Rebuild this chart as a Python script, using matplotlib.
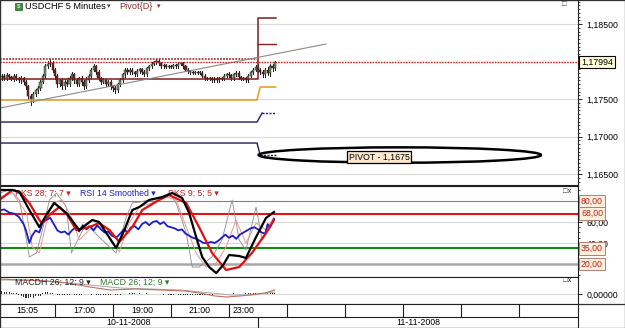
import matplotlib
matplotlib.use('Agg')
import matplotlib.pyplot as plt
from matplotlib.patches import Ellipse, Rectangle
from matplotlib.lines import Line2D
from matplotlib.ticker import MultipleLocator

plt.rcParams['font.family'] = ['Liberation Sans', 'DejaVu Sans']

# ---------------- data ----------------
closes = [1.1779,1.1781,1.1778,1.1782,1.1779,1.1777,1.1781,1.1778,1.1775,1.1778,
          1.1773,1.1767,1.1754,1.1749,1.1757,1.1762,1.1765,1.1773,1.1781,1.1794,
          1.1797,1.1798,1.1789,1.1781,1.1770,1.1775,1.1767,1.1773,1.1770,1.1778,
          1.1783,1.1775,1.1770,1.1778,1.1773,1.1767,1.1775,1.1781,1.1789,1.1794,
          1.1786,1.1778,1.1773,1.1775,1.1770,1.1773,1.1767,1.1765,1.1762,1.1770,
          1.1775,1.1783,1.1789,1.1786,1.1789,1.1786,1.1783,1.1787,1.1790,1.1786,
          1.1783,1.1791,1.1794,1.1797,1.1799,1.1801,1.1798,1.1794,1.1795,1.1793,
          1.1794,1.1793,1.1795,1.1794,1.1797,1.1798,1.1794,1.1789,1.1787,1.1786,
          1.1785,1.1786,1.1785,1.1785,1.1781,1.1778,1.1777,1.1778,1.1775,1.1777,
          1.1775,1.1778,1.1777,1.1781,1.1783,1.1782,1.1778,1.1783,1.1785,1.1779,
          1.1777,1.1778,1.1775,1.1781,1.1786,1.1789,1.1793,1.1789,1.1786,1.1783,
          1.1789,1.1785,1.1794,1.1791,1.17994]
first_open = 1.1778
upper_wick_pips = [2,3,2,3,2,2,3,2,2,3, 2,3,2,3,3,2,3,2,3,3, 4,5,3,2,3,2,3,4,2,3,
                   3,2,3,2,3,2,4,3,2,3, 2,3,2,3,2,3,2,2,3,2, 3,2,3,2,2,3,2,3,2,2,
                   3,2,2,2,2,2,2,2,2,2, 2,2,2,2,2,2,2,2,2,2, 2,2,2,2,2,2,2,2,2,2,
                   2,2,2,2,2,3,2,2,3,2, 2,2,2,3,2,3,2,4,3,3, 3,4,3,3,1]
lower_wick_pips = [2,3,2,3,2,2,3,3,2,3, 3,4,4,7,3,3,4,3,2,3, 2,3,3,4,4,3,4,3,3,3,
                   2,3,3,3,4,3,2,2,3,2, 3,2,3,2,3,3,3,4,4,3, 2,2,3,2,2,2,2,2,2,2,
                   2,2,2,2,2,2,2,2,2,2, 2,2,2,2,2,2,2,2,2,2, 2,2,2,2,2,2,2,2,2,2,
                   2,2,2,2,2,2,2,2,2,2, 2,2,2,2,2,2,2,3,3,4, 3,3,4,3,2]

last_price = 1.17994
day_change_bar = 107          # 00:00 bar
pivot_p  = [1.17767, 1.18580]
pivot_r1 = [1.18033, 1.18233]
pivot_s1 = [1.17487, 1.17660]
pivot_s2 = [1.17193, 1.17313]
pivot_s3 = [1.16913, 1.16753]
trend_x = [0.24, 135.1]
trend_y = [1.1738, 1.18233]
pivot_note = 'PIVOT - 1,1675'
pivot_note_price = 1.16753

price_ticks = [1.165, 1.170, 1.175, 1.180, 1.185]
price_ticklabels = ['1,16500', '1,17000', '1,17500', '', '1,18500']

grid_bars = [23, 47, 71, 95, 119, 143, 167, 191, 215]
time_labels = ['15:05', '17:00', '19:00', '21:00', '23:00']
date_labels = ['10-11-2008', '11-11-2008']

pks28_x = [0,5.4,8.3,12.4,16.5,19.4,22.7,27.7,33,38.4,41.3,48.3,51.7,55,57.9,62,67.4,71.5,
           75.6,78.5,81.4,83.9,86.8,89.7,92.6,95,99.2,102,106.2,110.3,113.6]
pks28_v = [90.5,90.5,88.6,71.4,55.2,66.7,78.1,68.6,52.4,61.9,60,35.2,52.4,71.4,74.3,81,83.8,
           87.6,82.9,68.6,45.7,26.7,17.1,11.4,19,28.6,27.6,25.7,45.7,63.8,69.5]
pks9_x = [0,5.4,8.3,12.4,16.5,17.8,20.7,24.8,28.1,31.8,37.2,41.3,45.5,49.6,55,59.1,66.1,70.2,
          77.3,82.6,88,93.8,99.2,104.5,110.3,113.6]
pks9_v = [81,90.5,88.6,78.1,61.9,59,66.7,74.3,66.7,52.4,55.2,59,52.4,41,55.2,71.4,81,85.7,
          78.1,55.2,30.5,14.3,17.1,30.5,49.5,61.9]
rsi_x = [0,2,4,6,8,10,11,12.4,13.5,15,16.5,18,19.5,21,22.5,24,25.5,27,28.5,30,31.5,33,34.5,36,
         37.5,39,40.5,42,43.5,45,46.5,48.3,50,51.5,53,54.5,56,57.5,59,60.5,62,63.5,65,66.5,68,
         69.5,71,72.5,74,75.5,77,78.5,80,81.5,83,84.5,86,87.5,89,90.5,92,93.5,95,96.5,98,99.5,
         101,102.5,104,105.5,107,108.5,110,111,112,113.6]
rsi_v = [71,72,69,68,65,58,52,40,47,52,50,60,62,64,58,52,50,51,48,52,55,51,57,53,
         56,52,57,53,50,51,47,45,49,53,50,55,56,53,58,60,57,60,61,58,60,
         56,55,54,52,53,49,47,45,44,42,40,40,41,40,42,45,48,45,47,44,48,
         50,52,54,55,53,50,49,58,55,63]
gray_x = [0,4.1,8.3,11.2,12.4,15.3,17.8,20.7,23.6,27.7,29.8,33,36,38.4,41.3,45.5,48.3,52.5,55,
          57.9,62,66.1,70.2,73.1,77.3,79.8,82.6,88,92.1,96.3,99.2,102,106.2,108.7,111.6,113.6]
gray_v = [87.6,90.5,81,42.9,26.7,30.5,52.4,81,87.6,74.3,30.5,45.7,59,52.4,45.7,36.2,30.5,64.8,
          78.1,79,81,81,87.6,78.1,49.5,17.1,17.1,26.7,42.9,81,42.9,33.3,74.3,42.9,52.4,61.9]
pink_x = [0,5.4,11.2,13.6,16.5,19.4,21.9,26,29.8,33,37.2,41.3,45.5,49.6,53.7,57.9,63.2,69,73.1,
          77.3,81.4,85.5,89.7,93.8,97.9,102,106.2,110.3,113.6]
pink_v = [83.8,87.6,68.6,36.2,30.5,59,78.1,81,64.8,42.9,52.4,55.2,45.7,31.4,59,74.3,78.1,83.8,
          81,55.2,30.5,17.1,21,36.2,61.9,40,59,52.4,64.8]
osc_levels = [80, 68, 35, 20]
osc_level_labels = ['80,00', '68,00', '35,00', '20,00']

macd_x = [0,8.5,18.9,27.9,37.5,45.8,56.1,66.5,76.8,82.9,89.2,94.1,99.5,103.6,109.8,113.9]
macd_v = [0.00075,0.0007,0.00065,0.00055,0.00035,0.0002,0.00025,0.0002,0.00015,0.00005,
          -0.0001,-0.00015,-0.0001,-0.00005,0.00005,0.0002]
signal_x = [0,12.6,25,37.5,50,62.5,75,87.5,95.8,104.1,113.9]
signal_v = [0.0007,0.0007,0.0006,0.00045,0.0003,0.00025,0.0002,0.00005,-0.00005,-0.00005,0.0001]
hist_1e5 = [10,15,12,8,10,6,5,3,
            -5,-10,-15,-18,-20,-15,-18,-12,-10,-8,
            5,8,10,6,3,2,
            -3,-5,-6,-4,-5,-3,-2,-3,-4,-5,-3,-2,-1,-2,-3,-2,
            -3,-4,-5,-6,-5,-4,-3,-2,-3,-4,-3,-2,-1,2,3,4,3,2,3,2,
            2,3,2,1,2,1,-1,-2,-3,-2,-3,-4,-3,-2,-3,-4,-5,-6,-5,-4,
            -5,-6,-7,-6,-5,-4,-3,-4,-3,-2,-1,-2,-1,1,2,1,2,3,2,1,
            2,1,3,4,5,4,3,2,4,5,4,6,5,6,7]

# ---------------- layout ----------------
W, H = 625, 328
fig = plt.figure(figsize=(6.25, 3.28), dpi=100)
fig.patch.set_facecolor('white')

def rect(x0, y0, x1, y1):
    return [x0 / W, 1 - y1 / H, (x1 - x0) / W, (y1 - y0) / H]

def fx(px):
    return px / W

def fy(py):
    return 1 - py / H

XL = ((0 + 3) * 12 / 29 - 1, (578 + 3) * 12 / 29 - 1)

ax = fig.add_axes(rect(0, 0, 578, 185))
osc = fig.add_axes(rect(0, 186, 578, 277), sharex=ax)
mac = fig.add_axes(rect(0, 277, 578, 304), sharex=ax)
tax = fig.add_axes(rect(0, 304, 578, 328), sharex=ax)

FS = 6.3
GRID = '#d9d9d9'

for a in (ax, osc, mac):
    a.set_xlim(*XL)
    a.set_xticks(grid_bars)
    a.tick_params(axis='x', length=0, labelbottom=False)
    a.yaxis.tick_right()
    a.tick_params(axis='y', labelsize=FS, length=3, pad=3, direction='out', width=0.6)
    a.tick_params(axis='y', which='minor', length=1.5, width=0.5)
    a.grid(True, color=GRID, lw=0.8, zorder=0)
    a.set_axisbelow(True)
    for s in a.spines.values():
        s.set_linewidth(0.8)
        s.set_color('#202020')

# ---------------- main price panel ----------------
ax.set_ylim(1.18 - 123.5 / 7500, 1.18 + 61.5 / 7500)
ax.set_yticks(price_ticks)
ax.set_yticklabels(price_ticklabels)
ax.yaxis.set_minor_locator(MultipleLocator(0.0005))

opens = [first_open] + closes[:-1]
for i, (o, c) in enumerate(zip(opens, closes)):
    hi = max(o, c) + upper_wick_pips[i] * 0.0001
    lo = min(o, c) - lower_wick_pips[i] * 0.0001
    ax.plot([i, i], [lo, hi], color='#1a1a1a', lw=0.7, zorder=3)
    up = c >= o
    body = max(abs(c - o), 0.00004)
    ax.bar(i, body, bottom=min(o, c), width=0.85,
           color='#6d926d' if up else '#7d1c1c', edgecolor='#222222', lw=0.35, zorder=4)

xe = XL[0]
xd = day_change_bar
xend = 114.3
ax.plot([xe, xd, xd, xend], [pivot_p[0], pivot_p[0], pivot_p[1], pivot_p[1]],
        color='#7b1c1c', lw=1.1, zorder=5)
ax.plot([xe, xd - 0.4], [pivot_r1[0]] * 2, color='#8b2020', lw=1.1, ls=(0, (1.2, 0.8)), zorder=5)
ax.plot([xd, xend], [pivot_r1[1]] * 2, color='#8b2020', lw=1.0, zorder=5)
ax.plot([xe, xd - 0.4, xd + 0.9, xend], [pivot_s1[0], pivot_s1[0], pivot_s1[1], pivot_s1[1]],
        color='#e6a12c', lw=1.2, zorder=5)
ax.plot([xe, xd - 0.4, xd + 1.7], [pivot_s2[0], pivot_s2[0], pivot_s2[1]],
        color='#1c1c5e', lw=1.0, zorder=5)
ax.plot([xd + 1.7, xend], [pivot_s2[1]] * 2, color='#1c1c5e', lw=1.0, ls=(0, (1.5, 1)), zorder=5)
ax.plot([xe, xd - 0.4, xd + 0.9], [pivot_s3[0], pivot_s3[0], pivot_s3[1]],
        color='#1c1c5e', lw=1.0, zorder=5)
ax.plot([xd + 0.9, xend], [pivot_s3[1]] * 2, color='#1c1c5e', lw=1.0, ls=(0, (1.5, 1)), zorder=5)

ax.plot(trend_x, trend_y, color='#8a8a8a', lw=0.8, zorder=6)
ax.axhline(last_price, color='#d02020', lw=1.0, ls=(0, (1, 1)), zorder=6)

ell_left = day_change_bar + 0.25
ell_right = (541 + 3) * 12 / 29 - 1
ax.add_patch(Ellipse(((ell_left + ell_right) / 2, pivot_note_price), ell_right - ell_left,
                     0.00205, fill=False, ec='black', lw=1.8, zorder=7))
ax.text((379 + 3) * 12 / 29 - 1, pivot_note_price - 0.00027, pivot_note, fontsize=FS,
        ha='center', va='center', zorder=8,
        bbox=dict(boxstyle='square,pad=0.15', fc='#fbe8cf', ec='black', lw=0.9))

fig.text(fx(581), fy(62), '1,17994', fontsize=FS, ha='left', va='center', zorder=10,
         bbox=dict(boxstyle='square,pad=0.2', fc='#ffffd8', ec='black', lw=0.8))

# titles
fig.add_artist(Rectangle((fx(15), fy(10)), 7 / W, 7 / H, transform=fig.transFigure,
                         fc='#3c8c3c', ec='#1e5a1e', lw=0.5))
fig.text(fx(18.5), fy(6.5), '$', fontsize=4.5, color='white', ha='center', va='center')
fig.text(fx(25), fy(6.5), 'USDCHF 5 Minutes', fontsize=6.6, ha='left', va='center')
fig.text(fx(107), fy(7), '\u25be', fontsize=5, ha='left', va='center', color='#444444')
fig.text(fx(119), fy(6.5), 'Pivot{D}', fontsize=6.6, ha='left', va='center', color='#8b2b2b')
fig.text(fx(157), fy(7), '\u25be', fontsize=5, ha='left', va='center', color='#8b2b2b')
fig.text(fx(562), fy(4.5), '\u25a1', fontsize=5.5, ha='left', va='center', color='#333333')

# ---------------- oscillator panel ----------------
osc.set_ylim(80 - 76 / 1.05, 80 + 15 / 1.05)
osc.set_yticks([40, 60])
osc.set_yticklabels(['40,00', '60,00'])
osc.yaxis.set_minor_locator(MultipleLocator(5))
osc.axhline(osc_levels[0], color='#c06a60', lw=0.8, zorder=2)
osc.axhline(osc_levels[1], color='#e01515', lw=1.5, zorder=2)
osc.axhline(osc_levels[2], color='#128a12', lw=1.5, zorder=2)
osc.axhline(osc_levels[3], color='#a8a8a8', lw=1.8, zorder=2)

ot = fig.transFigure
osc.text(fx(15), fy(193), 'PKS 28; 7; 7 \u25be', fontsize=FS, color='#c82020', transform=ot,
         ha='left', va='center', zorder=1)
osc.text(fx(80), fy(193), 'RSI 14 Smoothed \u25be', fontsize=FS, color='#2020c0', transform=ot,
         ha='left', va='center', zorder=1)
osc.text(fx(168), fy(193), 'PKS 9; 5; 5 \u25be', fontsize=FS, color='#c82020', transform=ot,
         ha='left', va='center', zorder=1)

osc.plot(gray_x, gray_v, color='#8c8c8c', lw=0.6, zorder=3)
osc.plot(pink_x, pink_v, color='#e39a90', lw=0.7, zorder=3)
osc.plot(rsi_x, rsi_v, color='#1c1cc8', lw=1.3, zorder=4)
osc.plot(pks9_x, pks9_v, color='#e01010', lw=1.6, zorder=5)
osc.plot(pks28_x, pks28_v, color='black', lw=1.6, zorder=6)

for lv, lab in zip(osc_levels, osc_level_labels):
    py = 201 + (80 - lv) * 1.05
    fig.text(fx(581), fy(py), lab, fontsize=FS, color='#c02020', ha='left', va='center',
             zorder=10, bbox=dict(boxstyle='square,pad=0.2', fc='#fdf0dc', ec='#b08070', lw=0.7))
fig.text(fx(563), fy(191.5), '\u25a1x', fontsize=5.5, ha='left', va='center', color='#333333')

# ---------------- MACD panel ----------------
mac.set_ylim(-0.0005, 0.00085)
mac.set_yticks([0])
mac.set_yticklabels(['0,00000'])
mac.bar(range(len(hist_1e5)), [h * 1e-5 for h in hist_1e5], width=0.45,
        color='#303030', zorder=3)
mac.plot(signal_x, signal_v, color='#a6a6a6', lw=0.7, zorder=4)
mac.plot(macd_x, macd_v, color='#c07060', lw=0.8, zorder=4)
mac.text(fx(15), fy(282), 'MACDH 26; 12; 9 \u25be', fontsize=FS, color='#222222',
         transform=ot, ha='left', va='center', zorder=5)
mac.text(fx(100), fy(282), 'MACD 26; 12; 9 \u25be', fontsize=FS, color='#2a7a2a',
         transform=ot, ha='left', va='center', zorder=5)
fig.text(fx(563), fy(280.5), '\u25a1x', fontsize=5.5, ha='left', va='center', color='#333333')

# ---------------- time axis ----------------
tax.set_xlim(*XL)
tax.set_ylim(0, 24)
tax.set_xticks([])
tax.set_yticks([])
for s in tax.spines.values():
    s.set_linewidth(0.8)
    s.set_color('#202020')
tax.axhline(11, color='#202020', lw=0.8)
tax.vlines(grid_bars, 11, 24, color='#202020', lw=0.8)
tax.vlines([day_change_bar], 0, 11, color='#202020', lw=0.8)
bounds = [XL[0]] + grid_bars[:4] + [day_change_bar]
for k, lab in enumerate(time_labels):
    tax.text((bounds[k] + bounds[k + 1]) / 2, 17.5, lab, fontsize=FS, ha='center', va='center')
dbounds = [XL[0], day_change_bar, XL[1]]
for k, lab in enumerate(date_labels):
    tax.text((dbounds[k] + dbounds[k + 1]) / 2, 5.5, lab, fontsize=FS, ha='center', va='center')

def fline(x0, y0, x1, y1, c='#303030', lw=0.9):
    fig.add_artist(Line2D([fx(x0), fx(x1)], [fy(y0), fy(y1)], transform=fig.transFigure,
                          color=c, lw=lw))

fline(0.4, 0.4, 624.6, 0.4)
fline(624.6, 0.4, 624.6, 327.6)
fline(0.4, 327.6, 624.6, 327.6)
fline(0.4, 0.4, 0.4, 327.6)
fline(578, 304, 624.6, 304)

fig.savefig('out.png', dpi=100, facecolor='white')
